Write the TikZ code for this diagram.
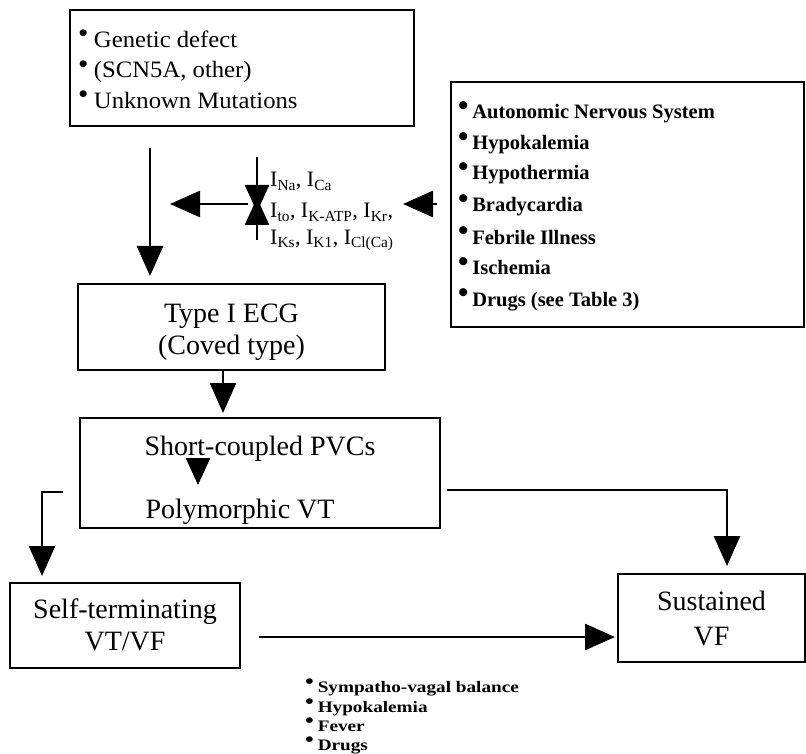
\documentclass[tikz,border=0pt]{standalone}
\usepackage{fontspec}
\setmainfont{Liberation Serif}
\usetikzlibrary{arrows.meta,calc}
\newcommand\bul{\smash{\raisebox{.18em}{\scalebox{1.45}{\textbullet}}}\hspace{.18em}}
\newcommand\gbul{\smash{\raisebox{.2em}{\scalebox{1.2}{\textbullet}}}\hspace{.22em}}
\newcommand\smbul{\smash{\raisebox{.22em}{\scalebox{1.3}{\textbullet}}}\hspace{.2em}}
\tikzset{
  box/.style={draw, line width=2pt, inner sep=0pt},
  arr/.style={line width=2.6pt, -{Triangle[width=26pt,length=30pt]}},
  sarr/.style={line width=2.6pt, -{Triangle[width=24pt,length=27pt]}},
  big/.style={font=\fontsize{28}{32}\selectfont, align=center},
  glist/.style={anchor=base west, inner sep=0pt, font=\fontsize{23.5}{26}\selectfont},
  flist/.style={anchor=base west, inner sep=0pt, font=\bfseries\fontsize{20.5}{23}\selectfont},
  blist/.style={anchor=base west, inner sep=0pt, font=\bfseries\fontsize{16}{17}\selectfont},
  ion/.style={anchor=base west, inner sep=0pt, font=\fontsize{22}{25}\selectfont},
}
\newcommand\wide[1]{\scalebox{1.2}[1]{#1}}
\newcommand\gwide[1]{\scalebox{1.05}[1]{#1}}
\begin{document}
\begin{tikzpicture}[x=1pt,y=-1pt]
\useasboundingbox (0,0) rectangle (806,754);
% boxes
\node[box, minimum width=344, minimum height=116] (gen) at (242,68) {};
\node[box, minimum width=353, minimum height=245] (fac) at (627.5,204.5) {};
\node[box, minimum width=307, minimum height=86] (ecg) at (231.5,327) {};
\node[box, minimum width=360, minimum height=110] (pvc) at (260,473) {};
\node[box, minimum width=230, minimum height=85] (self) at (125,625.5) {};
\node[box, minimum width=187, minimum height=88] (sus) at (711.5,618) {};
% box texts
\node[glist] (g1) at (78,47.5) {\gwide{\gbul Genetic defect}};
\node[glist] (g2) at (78,78) {\gwide{\gbul (SCN5A, other)}};
\node[glist] (g3) at (78,108.5) {\gwide{\gbul Unknown Mutations}};
\node[flist] (f1) at (458,119) {\bul Autonomic Nervous System};
\node[flist] (f2) at (458,150) {\bul Hypokalemia};
\node[flist] (f3) at (458,180) {\bul Hypothermia};
\node[flist] (f4) at (458,212) {\bul Bradycardia};
\node[flist] (f5) at (458,244) {\bul Febrile Illness};
\node[flist] (f6) at (458,275) {\bul Ischemia};
\node[flist] (f7) at (458,306) {\bul Drugs (see Table 3)};
\node[big, anchor=base] (e1) at (231.5,322) {Type I ECG};
\node[big, anchor=base] (e2) at (231.5,354) {(Coved type)};
\node[big, anchor=base] (p1) at (260,455) {Short-coupled PVCs};
\node[big, anchor=base] (p2) at (240,518) {Polymorphic VT};
\node[big, anchor=base] (s1) at (125,618) {Self-terminating};
\node[big, anchor=base] (s2) at (125,650) {VT/VF};
\node[big, anchor=base] (v1) at (711.5,610) {Sustained};
\node[big, anchor=base] (v2) at (711.5,645) {VF};
% ion labels
\node[ion] (i1) at (270,187) {I\textsubscript{Na}, I\textsubscript{Ca}};
\node[ion] (i2) at (270,218) {I\textsubscript{to}, I\textsubscript{K-ATP}, I\textsubscript{Kr},};
\node[ion] (i3) at (270,244) {I\textsubscript{Ks}, I\textsubscript{K1}, I\textsubscript{Cl(Ca)}};
% bottom list
\node[blist] (b1) at (305,692) {\wide{\smbul Sympatho-vagal balance}};
\node[blist] (b2) at (305,712) {\wide{\smbul Hypokalemia}};
\node[blist] (b3) at (305,731) {\wide{\smbul Fever}};
\node[blist] (b4) at (305,750) {\wide{\smbul Drugs}};
% coordinates
\coordinate (gstart) at (150,148);
\coordinate (ionpt) at (257,204);
\coordinate (iontop) at (257,157);
\coordinate (ionbot) at (257,240);
\coordinate (ionline) at (248,204);
\coordinate (ionleft) at (170,204);
\coordinate (facline) at (437,204);
\coordinate (factip) at (403,204);
\coordinate (lstart) at (63,492);
\coordinate (lcorner) at (42,492);
\coordinate (rstart) at (447,490);
\coordinate (rcorner) at (727,490);
\coordinate (ecgarr) at (223,370);
\coordinate (pvcarr) at (198,460);
% connectors
\draw[arr, shorten >=7pt] (gstart) -- (gstart |- ecg.north);
\draw[arr] (ionline) -- (ionleft);
\draw[sarr] (iontop) -- ([yshift=-8pt]ionpt);
\draw[sarr] (ionbot) -- ([yshift=6pt]ionpt);
\draw[arr] (facline) -- (factip);
\draw[arr, shorten >=4pt] (ecgarr) -- (ecgarr |- pvc.north);
\draw[sarr] (pvcarr) -- (198,485);
\draw[arr, shorten >=6pt] (lstart) -- (lcorner) -- (lcorner |- self.north);
\draw[arr, shorten >=7pt] (rstart) -- (rcorner) -- (rcorner |- sus.north);
\draw[arr, shorten >=2pt] ([xshift=18pt]self.east |- 0,637) -- (sus.west |- 0,637);
\end{tikzpicture}
\end{document}
